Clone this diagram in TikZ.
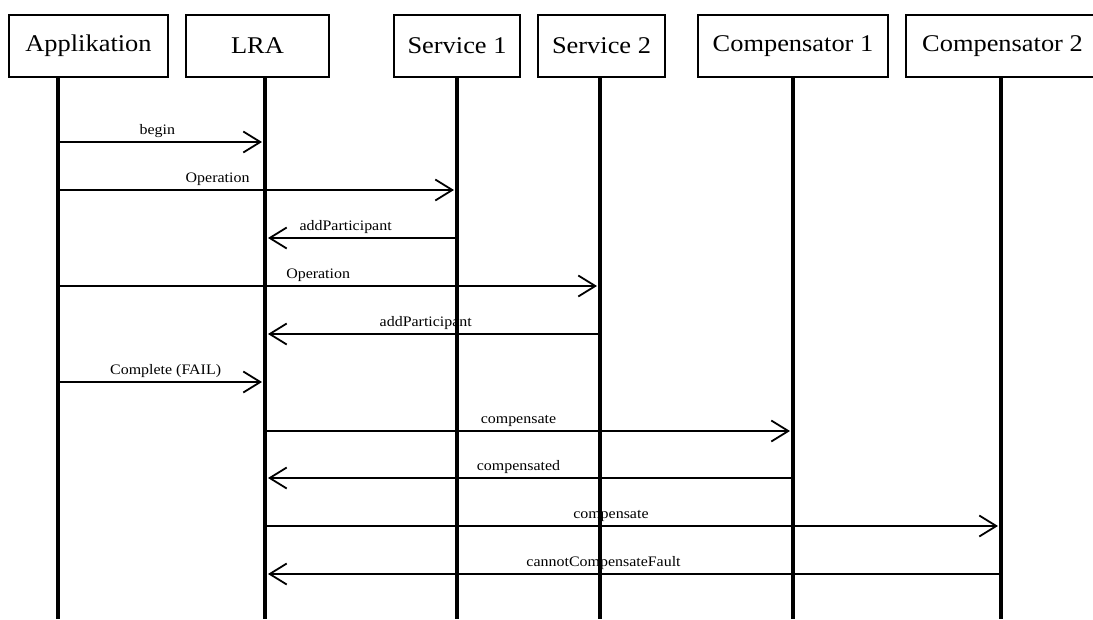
\documentclass[tikz,border=0pt]{standalone}
\usepackage{fontspec}
\setmainfont{Liberation Serif}[FakeStretch=1.1]
\usetikzlibrary{arrows.meta}

% one message between two lifelines: from, to, height, label position, label
\newcommand\seqmsg[5]{%
  \draw[msg] (#1 |- 0,#3) -- node[msglabel, pos=#4] {#5} (#2 |- 0,#3);}

\begin{document}
\begin{tikzpicture}[x=1pt, y=-1pt,
  actor/.style={draw, line width=1.8pt, minimum height=62.2pt, inner sep=0pt,
                font=\fontsize{24}{28}\selectfont},
  lifeline/.style={line width=3.6pt},
  msg/.style={line width=1.8pt, -{Straight Barb[length=17pt,width=21pt]}, shorten >=3pt},
  msglabel/.style={anchor=base, yshift=8pt, inner sep=0pt,
                   font=\fontsize{14.5}{17}\selectfont}]
\useasboundingbox[fill=white] (0,0) rectangle (1093,619);

% participants
\node[actor, minimum width=159.2pt] (app)   at (88.5,46)  {Applikation};
\node[actor, minimum width=143.2pt] (lra)   at (257.5,46) {LRA};
\node[actor, minimum width=126.2pt] (srv1)  at (457,46)   {Service 1};
\node[actor, minimum width=127.2pt] (srv2)  at (601.5,46) {Service 2};
\node[actor, minimum width=190.2pt] (comp1) at (793,46)   {Compensator 1};
\node[actor, minimum width=193.2pt] (comp2) at (1002.5,46){Compensator 2};

% lifeline feet
\coordinate (appL)   at (58,619);
\coordinate (lraL)   at (265,619);
\coordinate (srv1L)  at (457,619);
\coordinate (srv2L)  at (600,619);
\coordinate (comp1L) at (793,619);
\coordinate (comp2L) at (1001,619);

% messages
\seqmsg{appL}{lraL}{142}{0.48}{begin}
\seqmsg{appL}{srv1L}{190}{0.40}{Operation}
\seqmsg{srv1L}{lraL}{238}{0.58}{addParticipant}
\seqmsg{appL}{srv2L}{286}{0.48}{Operation}
\seqmsg{srv2L}{lraL}{334}{0.52}{addParticipant}
\seqmsg{appL}{lraL}{382}{0.52}{Complete (FAIL)}
\seqmsg{lraL}{comp1L}{431}{0.48}{compensate}
\seqmsg{comp1L}{lraL}{478}{0.52}{compensated}
\seqmsg{lraL}{comp2L}{526}{0.47}{compensate}
\seqmsg{comp2L}{lraL}{574}{0.54}{cannotCompensateFault}

% lifelines
\draw[lifeline] (app.south -| appL)     -- (appL);
\draw[lifeline] (lra.south -| lraL)     -- (lraL);
\draw[lifeline] (srv1.south -| srv1L)   -- (srv1L);
\draw[lifeline] (srv2.south -| srv2L)   -- (srv2L);
\draw[lifeline] (comp1.south -| comp1L) -- (comp1L);
\draw[lifeline] (comp2.south -| comp2L) -- (comp2L);
\end{tikzpicture}
\end{document}
